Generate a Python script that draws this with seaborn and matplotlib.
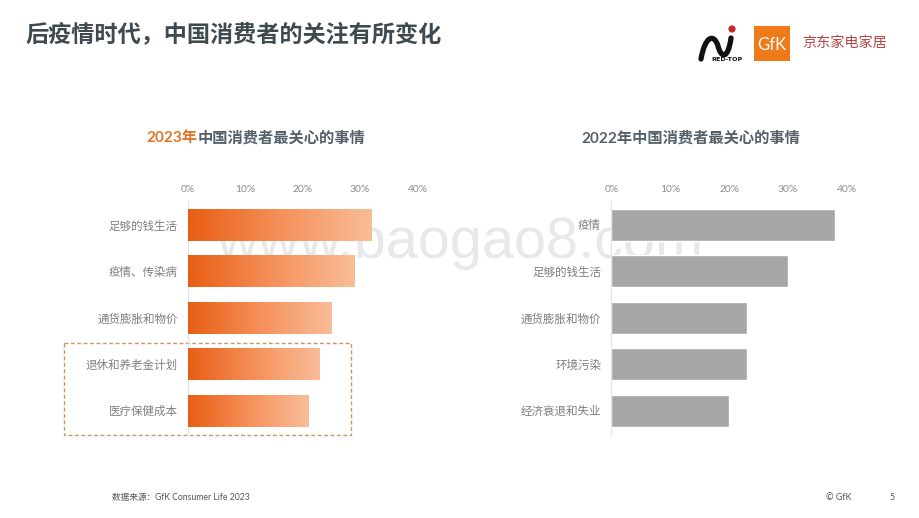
import numpy as np
import pandas as pd
import matplotlib.pyplot as plt
from matplotlib.colors import LinearSegmentedColormap
from matplotlib.patches import PathPatch, Rectangle, Circle
from matplotlib.path import Path
import seaborn as sns

# Dados
cats_2023 = ["足够的钱生活", "疫情、传染病", "通货膨胀和物价", "退休和养老金计划", "医疗保健成本"]
vals_2023 = [32, 29, 25, 23, 21]
cats_2022 = ["疫情", "足够的钱生活", "通货膨胀和物价", "环境污染", "经济衰退和失业"]
vals_2022 = [38, 30, 23, 23, 20]
x_ticks = [0, 10, 20, 30, 40]

TEXT_DARK = "#3f4a50"
TEXT_GRAY = "#7f7f7f"
FONT = ["Lato", "Noto Sans CJK SC", "DejaVu Sans"]

sns.set_theme(style="white")
plt.rcParams["font.family"] = FONT

W, H = 920, 518
fig = plt.figure(figsize=(W / 100, H / 100), dpi=100, facecolor="white")


def axes_px(x0, x1, y0, y1):
    return fig.add_axes([x0 / W, 1 - y1 / H, (x1 - x0) / W, (y1 - y0) / H])


# Camada de fundo em pixels: textos soltos, logos, marca d'agua
bg = axes_px(0, W, 0, H)
bg.set_xlim(0, W)
bg.set_ylim(H, 0)
bg.axis("off")
bg.set_zorder(0)


def draw_bars(ax, cats, vals, color=None):
    df = pd.DataFrame({"cat": cats, "val": vals})
    sns.barplot(data=df, x="val", y="cat", ax=ax, width=0.69,
                color=color if color else "#e85e14", saturation=1)
    ax.set_xlim(0, 40)
    ax.set_ylim(4.5, -0.5)
    ax.set_xlabel("")
    ax.set_ylabel("")
    ax.xaxis.tick_top()
    ax.set_xticks(x_ticks)
    ax.set_xticklabels([f"{t}%" for t in x_ticks], fontsize=7.4, color="#8c8c8c")
    ax.tick_params(axis="x", length=0, pad=5.5)
    ax.tick_params(axis="y", length=0, pad=7.5, labelsize=8.3, labelcolor=TEXT_GRAY)
    for s in ["top", "right", "bottom"]:
        ax.spines[s].set_visible(False)
    ax.spines["left"].set_color("#e3e3e3")
    ax.spines["left"].set_linewidth(0.8)
    ax.patch.set_alpha(0)


# 2023
ax1 = axes_px(188, 417.5, 201.5, 434)
ax1.set_zorder(2)
draw_bars(ax1, cats_2023, vals_2023)
grad = LinearSegmentedColormap.from_list("laranja", ["#e85e14", "#f5905a", "#f9bd98"])
for bar in list(ax1.patches):
    x, y, w, h = bar.get_x(), bar.get_y(), bar.get_width(), bar.get_height()
    im = ax1.imshow(np.linspace(0, 1, 256).reshape(1, -1), cmap=grad, aspect="auto",
                    extent=[x, x + w, y + h, y], zorder=3)
    im.set_clip_path(bar)
    bar.set_alpha(0)
ax1.set_xlim(0, 40)
ax1.set_ylim(4.5, -0.5)

# 2022
ax2 = axes_px(611.5, 847, 201.5, 434)
ax2.set_zorder(2)
draw_bars(ax2, cats_2022, vals_2022, color="#a6a6a6")

# Marca d'agua
bg.text(460, 243, "www.baogao8.com", fontsize=41.5, color="#e8e8e8",
        ha="center", va="center", family=["Liberation Sans"])

# Titulos
bg.text(25, 34, "后疫情时代，中国消费者的关注有所变化", fontsize=16.7, fontweight="bold",
        color=TEXT_DARK, ha="left", va="center")
bg.text(197.5, 138, "2023年", fontsize=11, fontweight="bold", color="#e0752a",
        ha="right", va="center")
bg.text(198, 138, "中国消费者最关心的事情", fontsize=11, fontweight="bold", color="#55606a",
        ha="left", va="center")
bg.text(691, 138, "2022年中国消费者最关心的事情", fontsize=11, fontweight="bold", color="#55606a",
        ha="center", va="center")

# Caixa tracejada
bg.add_patch(Rectangle((64, 343), 287, 92, fill=False, edgecolor="#cf9560",
                       linewidth=1, linestyle=(0, (2.8, 1.8))))

# Rodape
bg.text(112, 497.5, "数据来源：GfK Consumer Life 2023", fontsize=6.2, color="#555555",
        ha="left", va="center")
bg.text(839, 497.5, "© GfK", fontsize=6.5, color="#555555", ha="center", va="center")
bg.text(892, 497.5, "5", fontsize=6.5, color="#555555", ha="center", va="center")

# Logo RED-TOP
swoosh = Path([(701, 59), (705, 36), (714, 33), (718, 46), (721, 58), (728, 60), (731, 38)],
              [Path.MOVETO, Path.CURVE4, Path.CURVE4, Path.CURVE4, Path.CURVE4, Path.CURVE4, Path.CURVE4])
bg.add_patch(PathPatch(swoosh, fill=False, edgecolor="#111111", linewidth=3.8, capstyle="round"))
bg.add_patch(Circle((732, 29), 3.6, color="#c0282d", lw=0))
bg.text(727, 59.5, "RED-TOP", fontsize=4.6, fontweight="bold", color="#111111",
        ha="center", va="center", family=["DejaVu Sans"])

# Logo GfK
bg.add_patch(Rectangle((754, 26), 36, 35, color="#ee7a1a", lw=0))
bg.text(771.5, 45, "GfK", fontsize=12, color="white", ha="center", va="center")

# JD
bg.text(844.5, 42.5, "京东家电家居", fontsize=10.2, color="#b5443e", ha="center", va="center")

fig.savefig("out.png", dpi=100)
